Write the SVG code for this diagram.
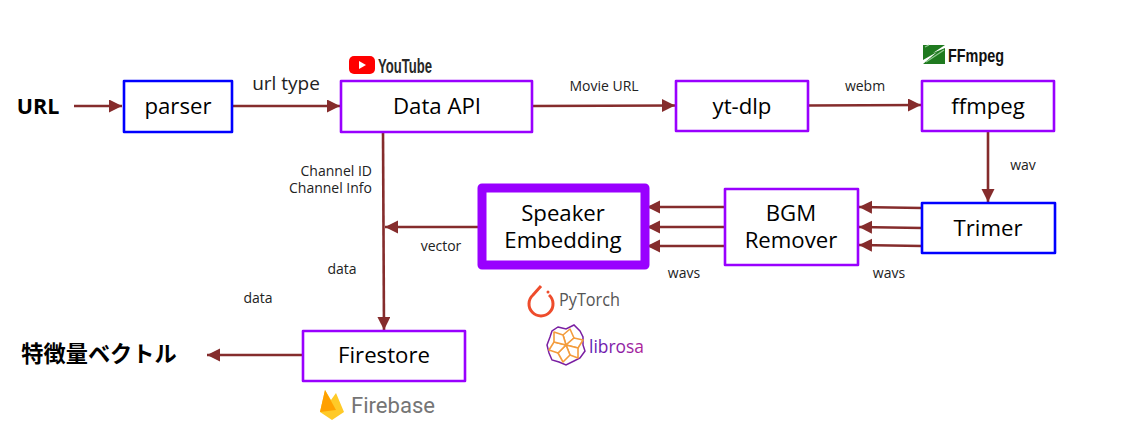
<svg xmlns="http://www.w3.org/2000/svg" width="1133" height="437" viewBox="0 0 1133 437">
<style>
.b{fill:#fff;stroke-width:2.6;stroke-linejoin:round}
.bl{stroke:#0000ff}.pu{stroke:#9900ff}
.t{font-family:"Open Sans",sans-serif;font-size:22.200px;fill:#000;text-anchor:middle}
.s{font-family:"Open Sans",sans-serif;font-size:14px;fill:#222;text-anchor:middle}
.e{text-anchor:end}
.c{fill:none;stroke:#852c2c;stroke-width:2.6;marker-end:url(#a)}
.p{fill:#fff;stroke:#f39c3d;stroke-width:1.600;stroke-linejoin:round}
</style>
<defs><marker id="a" markerUnits="userSpaceOnUse" markerWidth="14" markerHeight="14" refX="13" refY="6.500" orient="auto"><path d="M0 0L13 6.500L0 13Z" fill="#852c2c"/></marker>
<linearGradient id="g" x1="0" x2="1" y1="0" y2="0"><stop offset="0" stop-color="#5a17b5"/><stop offset="1" stop-color="#b0209a"/></linearGradient></defs>
<rect width="1133" height="437" fill="#fff"/>
<g id="connectors">
<path class="c" d="M74 106H122"/>
<path class="c" d="M232 106H340"/>
<path class="c" d="M533 106L675 105.500"/>
<path class="c" d="M808 105.500L921 105"/>
<path class="c" d="M988 131V202"/>
<path class="c" d="M922 208L859 207"/>
<path class="c" d="M922 228L859 227"/>
<path class="c" d="M922 246L859 245"/>
<path class="c" d="M725 207H647"/>
<path class="c" d="M725 227H647"/>
<path class="c" d="M725 246H647"/>
<path class="c" d="M482 227H385"/>
<path class="c" d="M383 132L384 330"/>
<path class="c" d="M303 355H207"/>
</g>
<g id="url"><text x="38" y="114" font-family="'Open Sans',sans-serif" font-size="21.500" font-weight="700" text-anchor="middle">URL</text></g>
<g id="parser"><rect class="b bl" x="124" y="81" width="108" height="51"/><text class="t" x="178" y="114">parser</text></g>
<g id="data-api"><rect class="b pu" x="341" y="81" width="191" height="51"/><text class="t" x="437" y="114">Data API</text></g>
<g id="yt-dlp"><rect class="b pu" x="676" y="81" width="132" height="50"/><text class="t" x="742" y="114">yt-dlp</text></g>
<g id="ffmpeg"><rect class="b pu" x="922" y="81" width="132" height="50"/><text class="t" x="988" y="114">ffmpeg</text></g>
<g id="trimer"><rect class="b bl" x="922" y="203" width="133" height="50"/><text class="t" x="988" y="236">Trimer</text></g>
<g id="bgm"><rect class="b pu" x="725" y="189" width="133" height="76"/><text class="t" x="791" y="221">BGM</text><text class="t" x="791" y="248">Remover</text></g>
<g id="speaker"><rect x="482" y="188" width="163" height="77" fill="#fff" stroke="#9900ff" stroke-width="9" stroke-linejoin="round"/><text class="t" x="563" y="221">Speaker</text><text class="t" x="563" y="248">Embedding</text></g>
<g id="firestore"><rect class="b pu" x="303" y="331" width="162" height="50"/><text class="t" x="384" y="363">Firestore</text></g>
<g id="result"><text x="99" y="362" font-family="'Noto Sans CJK JP',sans-serif" font-size="22.200" font-weight="700" text-anchor="middle">特徴量ベクトル</text></g>
<g id="labels">
<text x="286" y="90" font-family="'Open Sans',sans-serif" font-size="19px" fill="#222" text-anchor="middle">url type</text>
<text class="s" x="604" y="91">Movie URL</text>
<text class="s" x="865" y="91">webm</text>
<text class="s" x="1023" y="170">wav</text>
<text class="s e" x="372" y="176">Channel ID</text>
<text class="s e" x="372" y="193">Channel Info</text>
<text class="s" x="441" y="251">vector</text>
<text class="s" x="342" y="274">data</text>
<text class="s" x="258" y="303">data</text>
<text class="s" x="684" y="278">wavs</text>
<text class="s" x="889" y="278">wavs</text>
</g>
<g id="youtube-logo"><rect x="349" y="56" width="26" height="18" rx="5" fill="#f00"/><path d="M359 61L366 65L359 69Z" fill="#fff"/><text x="378" y="73" font-family="'Liberation Sans',sans-serif" font-size="21" font-weight="700" fill="#282828" textLength="54" lengthAdjust="spacingAndGlyphs">YouTube</text></g>
<g id="ffmpeg-logo"><path d="M923 45H945L933 53L945 48V64H923L937 52L923 60Z" fill="#1f7a1f"/><path d="M925 47L929 45M926 62L944 50" stroke="#8fc98f" stroke-width="1.200"/><text x="948" y="62" font-family="'Liberation Sans',sans-serif" font-size="17.500" font-weight="700" fill="#111" textLength="56" lengthAdjust="spacingAndGlyphs">FFmpeg</text></g>
<g id="pytorch-logo"><path d="M541 286L533 295A12 12 0 1 0 549 295" fill="none" stroke="#ee4c2c" stroke-width="3"/><circle cx="548" cy="292" r="1.500" fill="#ee4c2c"/><text x="559" y="306" font-family="'Open Sans',sans-serif" font-size="18px" fill="#555" textLength="61" lengthAdjust="spacingAndGlyphs">PyTorch</text></g>
<g id="librosa-logo"><path d="M558 327L566 329L574 325L580 331L583 337L583 345L585 351L580 358L574 361L566 365L559 362L552 360L549 353L547 345L550 337L552 331Z" fill="none" stroke="#7a1fa2" stroke-width="1.500"/>
<path class="p" d="M566 345L563 335L570 329L574 338Z"/><path class="p" d="M566 345L574 338L583 340L578 348Z"/><path class="p" d="M566 345L578 348L578 358L570 355Z"/><path class="p" d="M566 345L570 355L563 362L558 353Z"/><path class="p" d="M566 345L558 353L549 350L554 342Z"/><path class="p" d="M566 345L554 342L554 332L563 335Z"/>
<text x="589" y="353" font-family="'Open Sans',sans-serif" font-size="19px" fill="url(#g)" textLength="55" lengthAdjust="spacingAndGlyphs">librosa</text></g>
<g id="firebase-logo"><path d="M320 412L325 390L331 400L336 393L344 412L332 420Z" fill="#ffca28"/><path d="M320 412L325 390L336 410Z" fill="#ffa000"/><text x="351" y="413" font-family="'Roboto',sans-serif" font-size="22px" fill="#757575" textLength="84" lengthAdjust="spacingAndGlyphs">Firebase</text></g>
</svg>
